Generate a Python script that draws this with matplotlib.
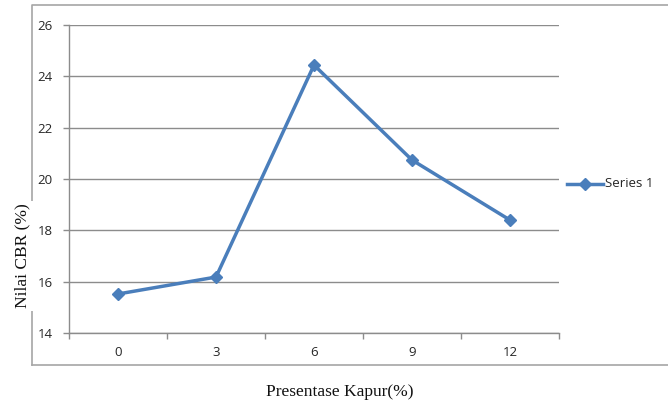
import matplotlib.pyplot as plt
from matplotlib.lines import Line2D

# data kapur vs CBR
kapur = ['0', '3', '6', '9', '12']
cbr = [15.52, 16.18, 24.44, 20.74, 18.40]
y_ticks = [14, 16, 18, 20, 22, 24, 26]

blue = '#4a7ebb'
grey = '#8c8c8c'

fig = plt.figure(figsize=(6.68, 4.08), dpi=100)
ax = fig.add_axes([69/668, 1 - 333/408, 490/668, 308/408])

x = list(range(len(kapur)))
ax.plot(x, cbr, color=blue, lw=2.5, marker='D', markersize=6.5,
        markerfacecolor=blue, markeredgecolor=blue, label='Series 1')

ax.set_xlim(-0.5, len(kapur) - 0.5)
ax.set_ylim(14, 26)
ax.set_yticks(y_ticks)
ax.set_xticks([i - 0.5 for i in range(len(kapur) + 1)])
ax.set_xticklabels([])
ax.set_xticks(x, minor=True)
ax.set_xticklabels(kapur, minor=True)
ax.tick_params(axis='x', which='minor', length=0, pad=9.5)
ax.tick_params(axis='x', which='major', length=4.3, color=grey, width=1)
ax.tick_params(axis='y', length=4.3, color=grey, width=1, pad=7.5)
for lab in ax.get_yticklabels() + ax.get_xticklabels(minor=True):
    lab.set_fontfamily('Open Sans')
    lab.set_fontsize(9.5)
    lab.set_color('#262626')

ax.yaxis.grid(True, color=grey, lw=1)
ax.set_axisbelow(True)
for s in ['top', 'right']:
    ax.spines[s].set_visible(False)
for s in ['left', 'bottom']:
    ax.spines[s].set_color(grey)
    ax.spines[s].set_linewidth(1)

# chart area border (left, top, bottom)
fx0, fy0, fy1 = 32/668, 1 - 365/408, 1 - 5/408
fig.add_artist(Line2D([fx0, fx0, 1], [fy0, fy1, fy1], color='#a6a6a6', lw=1.2,
                      transform=fig.transFigure))
fig.add_artist(Line2D([fx0, 1], [fy0, fy0], color='#a6a6a6', lw=1.2,
                      transform=fig.transFigure))

fig.text(22/668, 1 - 256/408, 'Nilai CBR (%)', rotation=90, ha='center', va='center',
         family='Liberation Serif', fontsize=12.5, color='#111111',
         bbox=dict(facecolor='white', edgecolor='none', pad=2))
fig.text(340/668, 1 - 392/408, 'Presentase Kapur(%)', ha='center', va='center',
         family='Liberation Serif', fontsize=12.5, color='#111111')

# legend
fig.add_artist(Line2D([567/668, 603/668], [1 - 184/408, 1 - 184/408], color=blue, lw=2.5,
                      transform=fig.transFigure))
fig.add_artist(Line2D([585/668], [1 - 184/408], color=blue, marker='D', markersize=6.5,
                      transform=fig.transFigure))
fig.text(605/668, 1 - 184/408, 'Series 1', ha='left', va='center',
         family='Open Sans', fontsize=9.5, color='#262626')

fig.savefig('out.png', dpi=100)
